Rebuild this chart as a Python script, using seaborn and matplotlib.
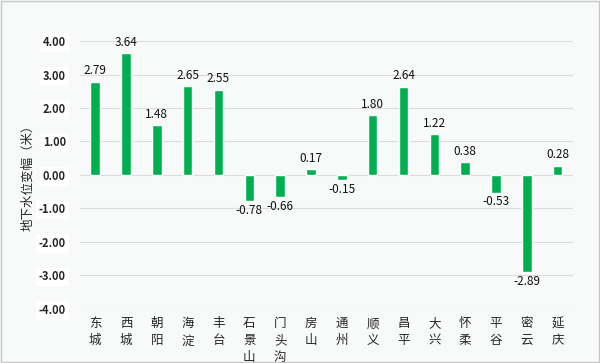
import numpy as np
import pandas as pd
import matplotlib
matplotlib.use("Agg")
import matplotlib.pyplot as plt
import seaborn as sns

# ---- data ----
districts = ["东\n城", "西\n城", "朝\n阳", "海\n淀", "丰\n台", "石\n景\n山", "门\n头\n沟",
             "房\n山", "通\n州", "顺\n义", "昌\n平", "大\n兴", "怀\n柔", "平\n谷", "密\n云", "延\n庆"]
changes = [2.79, 3.64, 1.48, 2.65, 2.55, -0.78, -0.66,
           0.17, -0.15, 1.80, 2.64, 1.22, 0.38, -0.53, -2.89, 0.28]
yticks = [4, 3, 2, 1, 0, -1, -2, -3, -4]
ylabel = "地下水位变幅（米）"

sns.set_style("white")
plt.rcParams['font.family'] = ['Noto Sans CJK SC', 'DejaVu Sans']

df = pd.DataFrame({"district": districts, "change": changes})

fig = plt.figure(figsize=(6, 3.63), dpi=100, facecolor="#f8f9f9")
ax = fig.add_axes([0.133, 0.149, 0.822, 0.738])
ax.set_facecolor("#f8f9f9")

sns.barplot(data=df, x="district", y="change", color="#00b050", width=0.31,
            saturation=1, ax=ax)

for i, v in enumerate(changes):
    if v >= 0:
        ax.annotate(f"{v:.2f}", (i, v), xytext=(0, 3), textcoords="offset points",
                    ha="center", va="bottom", fontsize=8.5, color="#111111")
    else:
        ax.annotate(f"{v:.2f}", (i, v), xytext=(0, -2), textcoords="offset points",
                    ha="center", va="top", fontsize=8.5, color="#111111")

ax.set_ylim(-4, 4)
ax.set_xlim(-0.5, len(districts) - 0.5)
ax.set_yticks(yticks)
ax.set_yticklabels([f"{t:.2f}" for t in yticks], fontweight="bold", fontsize=8)
for lbl in ax.get_yticklabels():
    lbl.set_bbox(dict(facecolor="white", edgecolor="none", pad=2))
ax.tick_params(axis="y", length=0, pad=10)
ax.tick_params(axis="x", length=0, pad=6, labelsize=9)
for lbl in ax.get_xticklabels():
    lbl.set_linespacing(1.4)
    lbl.set_va("top")
ax.yaxis.grid(True, color="#dcdcdc", linewidth=0.8)
ax.set_axisbelow(True)
for s in ax.spines.values():
    s.set_visible(False)
ax.set_xlabel("")
ax.set_ylabel(ylabel, fontsize=9, labelpad=3)

# outer border
fig.patches.append(plt.Rectangle((0.002, 0.003), 0.996, 0.994, transform=fig.transFigure,
                                 fill=False, edgecolor="#c8c8c8", linewidth=1))

fig.savefig("out.png", dpi=100, facecolor=fig.get_facecolor())
